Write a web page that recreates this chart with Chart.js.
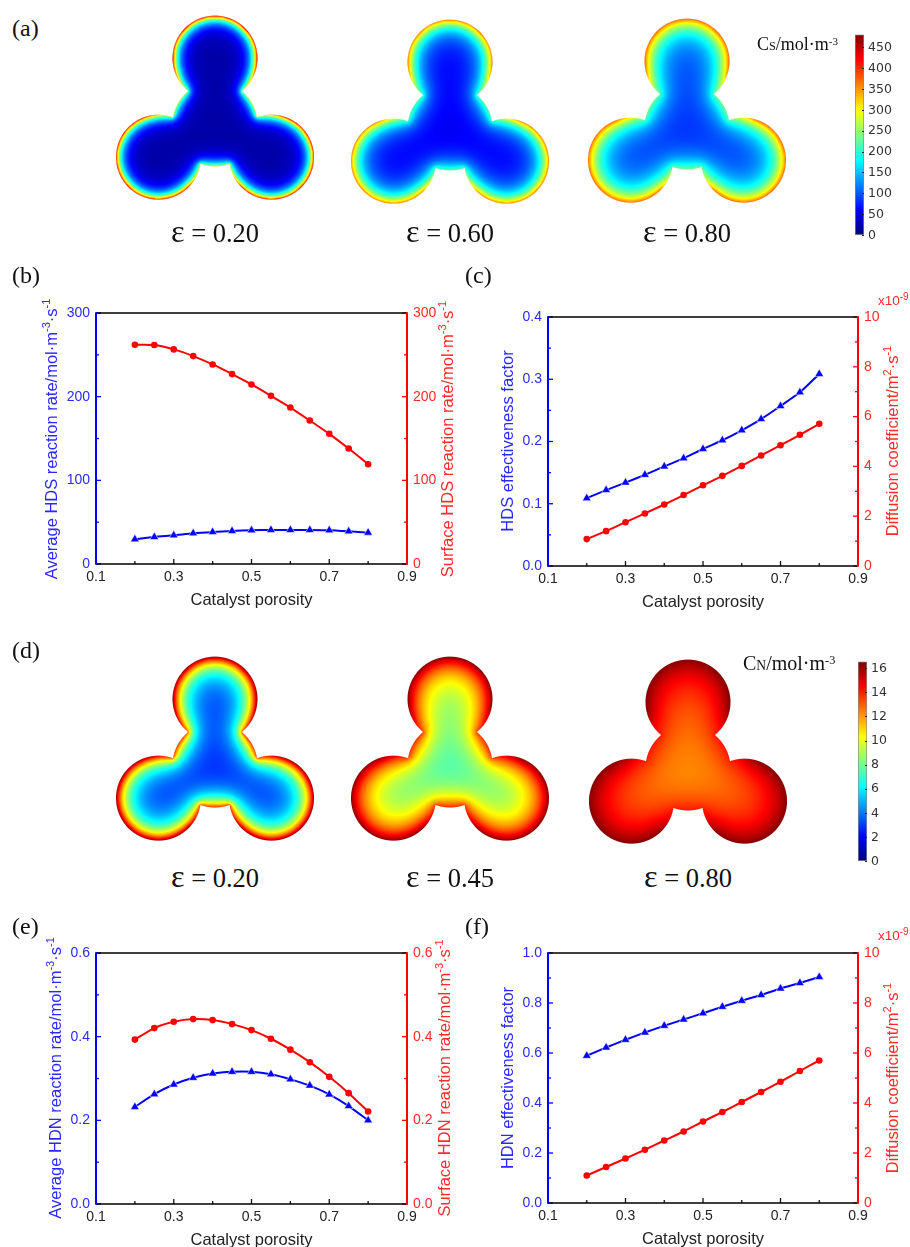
<!DOCTYPE html>
<html>
<head>
<meta charset="utf-8">
<title>Catalyst porosity panels</title>
<script src="https://cdn.jsdelivr.net/npm/chart.js@4"></script>
<style>
  html, body { margin: 0; background: #fff; }
  #page { position: relative; width: 910px; height: 1247px; overflow: hidden; background: #fff; }
  #page canvas { position: absolute; }
  .txt { position: absolute; font-family: "Liberation Serif", serif; color: #111; white-space: nowrap; line-height: 1; }
  .letter { font-size: 24px; }
  .eps { font-size: 26.5px; transform: translateX(-50%); }
  .eps span { font-size: 1.22em; line-height: 0; }
  .cbt { font-size: 18px; }
  .cbn { font-size: 20px; }
  .cbt small, .cbn small { font-size: 0.68em; }
  .cbt sup, .cbn sup { font-size: 0.62em; line-height: 0; vertical-align: 0.45em; }
  .exp { font-family: "Liberation Sans", sans-serif; font-size: 13.5px; color: #ff2a2a; }
  .exp sup { font-size: 10px; line-height: 0; vertical-align: 5px; }
</style>
</head>
<body>
<div id="page"></div>
<script>
// values
const porosity = [0.2, 0.25, 0.3, 0.35, 0.4, 0.45, 0.5, 0.55, 0.6, 0.65, 0.7, 0.75, 0.8];

const hdsAvgRate = [29.5, 32.3, 34.3, 36.7, 38.3, 39.5, 40.3, 40.7, 40.7, 40.7, 40.3, 39, 37.5];
const hdsSurfRate = [262, 261.7, 256.5, 248.5, 238.5, 227, 214.6, 201, 187, 171.5, 155.6, 138, 119.3];
const hdsEffect = [0.109, 0.122, 0.134, 0.1465, 0.16, 0.173, 0.188, 0.202, 0.218, 0.236, 0.257, 0.279, 0.3085];
const hdsDiffusion = [1.08, 1.4, 1.76, 2.11, 2.47, 2.85, 3.24, 3.62, 4.02, 4.44, 4.85, 5.27, 5.71];

const hdnAvgRate = [0.232, 0.2625, 0.2856, 0.3016, 0.312, 0.316, 0.316, 0.31, 0.298, 0.283, 0.262, 0.234, 0.2];
const hdnSurfRate = [0.393, 0.4205, 0.4356, 0.442, 0.4396, 0.43, 0.4157, 0.395, 0.369, 0.339, 0.304, 0.265, 0.221];
const hdnEffect = [0.589, 0.622, 0.653, 0.682, 0.709, 0.734, 0.759, 0.785, 0.809, 0.832, 0.858, 0.88, 0.904];
const hdnDiffusion = [1.1, 1.44, 1.78, 2.13, 2.5, 2.86, 3.26, 3.64, 4.04, 4.44, 4.85, 5.28, 5.7];

// trilobe outline, in lobe radii: hub first, then the three lobes
const lobeX = [0, 0, -1.33, 1.33];
const lobeY = [0, 1.55, -0.78, -0.78];

const sulfurRange = [0, 482];
const nitrogenRange = [0, 16.6];

const BLUE = '#0000ff';
const RED = '#ff0000';
const BLUE_TXT = '#2a2aff';
const RED_TXT = '#ff2a2a';
const SANS = "'Liberation Sans', Arial, sans-serif";

const page = document.getElementById('page');

function addCanvas(left, top, width, height) {
    const c = document.createElement('canvas');
    c.width = width;
    c.height = height;
    c.style.left = left + 'px';
    c.style.top = top + 'px';
    page.appendChild(c);
    return c;
}

function addText(cls, left, top, html) {
    const d = document.createElement('div');
    d.className = 'txt ' + cls;
    d.style.left = left + 'px';
    d.style.top = top + 'px';
    d.innerHTML = html;
    page.appendChild(d);
}

function jet(u) {
    const f = (k) => Math.max(0, Math.min(1, 1.5 - Math.abs(4 * u - k)));
    return [f(3) * 255, f(2) * 255, f(1) * 255];
}

// y axis title with raised exponents, same way the library writes its own text
function drawRichTitle(ctx, parts, x, y, color) {
    const base = '16.5px ' + SANS;
    const sup = '11px ' + SANS;
    ctx.save();
    ctx.translate(x, y);
    ctx.rotate(-Math.PI / 2);
    ctx.fillStyle = color;
    ctx.textBaseline = 'middle';
    ctx.textAlign = 'left';
    let total = 0;
    parts.forEach((p, i) => {
        ctx.font = i % 2 ? sup : base;
        total += ctx.measureText(p).width;
    });
    let pos = -total / 2;
    parts.forEach((p, i) => {
        ctx.font = i % 2 ? sup : base;
        ctx.fillText(p, pos, i % 2 ? -5 : 0);
        pos += ctx.measureText(p).width;
    });
    ctx.restore();
}

const frameAndTicks = {
    id: 'frameAndTicks',
    afterDraw(chart, args, opts) {
        const { ctx, chartArea: a, scales } = chart;
        ctx.save();
        const inward = (scale, color, dir) => {
            ctx.strokeStyle = color;
            ctx.lineWidth = 1.3;
            scale.ticks.forEach((t, i) => {
                const major = t.label !== '';
                const len = major ? 5 : 3;
                const p = scale.getPixelForTick(i);
                ctx.beginPath();
                if (scale.isHorizontal()) {
                    ctx.moveTo(p, a.bottom);
                    ctx.lineTo(p, a.bottom - len);
                } else {
                    const x0 = dir > 0 ? a.left : a.right;
                    ctx.moveTo(x0, p);
                    ctx.lineTo(x0 + dir * len, p);
                }
                ctx.stroke();
            });
        };
        inward(scales.x, '#111', 1);
        inward(scales.y, BLUE, 1);
        inward(scales.y2, RED, -1);
        ctx.lineWidth = 1.7;
        ctx.strokeStyle = '#000';
        ctx.beginPath();
        ctx.moveTo(a.left, a.top);
        ctx.lineTo(a.right, a.top);
        ctx.moveTo(a.left, a.bottom);
        ctx.lineTo(a.right, a.bottom);
        ctx.stroke();
        ctx.lineWidth = 2;
        ctx.strokeStyle = BLUE;
        ctx.beginPath();
        ctx.moveTo(a.left, a.top - 0.8);
        ctx.lineTo(a.left, a.bottom + 0.8);
        ctx.stroke();
        ctx.strokeStyle = RED;
        ctx.beginPath();
        ctx.moveTo(a.right, a.top - 0.8);
        ctx.lineTo(a.right, a.bottom + 0.8);
        ctx.stroke();
        ctx.restore();
        drawRichTitle(ctx, opts.leftTitle, opts.leftX, opts.leftY, BLUE_TXT);
        drawRichTitle(ctx, opts.rightTitle, opts.rightX, opts.rightY, RED_TXT);
    },
};

function multipleOf(v, step, origin) {
    const k = (v - origin) / step;
    return Math.abs(k - Math.round(k)) < 1e-6;
}

function yAxis(position, color, max, minor, major, digits, width) {
    return {
        type: 'linear',
        position,
        min: 0,
        max,
        afterFit: (s) => { s.width = width; },
        border: { display: false },
        grid: { display: false, drawTicks: false },
        ticks: {
            stepSize: minor,
            autoSkip: false,
            padding: 6,
            color,
            font: { family: SANS, size: 14 },
            callback: (v) => (multipleOf(v, major, 0) ? v.toFixed(digits) : ''),
        },
    };
}

function createPorosityChart(box, seriesBlue, seriesRed, left, right, titles) {
    const padL = 70, padR = 52, padT = 30, padB = 46;
    const canvas = addCanvas(box.l - padL, box.t - padT, box.r - box.l + padL + padR, box.b - box.t + padT + padB);
    return new Chart(canvas, {
        type: 'line',
        data: {
            labels: porosity,
            datasets: [
                {
                    data: porosity.map((x, i) => ({ x, y: seriesBlue[i] })),
                    yAxisID: 'y',
                    borderColor: BLUE,
                    backgroundColor: BLUE,
                    borderWidth: 2,
                    tension: 0.2,
                    pointStyle: 'triangle',
                    pointRadius: 5,
                    pointBorderColor: '#ffffff',
                    pointBorderWidth: 0.5,
                },
                {
                    data: porosity.map((x, i) => ({ x, y: seriesRed[i] })),
                    yAxisID: 'y2',
                    borderColor: RED,
                    backgroundColor: RED,
                    borderWidth: 2,
                    tension: 0.2,
                    pointStyle: 'circle',
                    pointRadius: 3.3,
                    pointBorderWidth: 0,
                },
            ],
        },
        options: {
            responsive: false,
            animation: false,
            layout: { padding: { top: padT } },
            plugins: {
                legend: { display: false },
                tooltip: { enabled: false },
                frameAndTicks: {
                    leftTitle: titles.left,
                    rightTitle: titles.right,
                    leftX: titles.leftX - (box.l - padL),
                    rightX: titles.rightX - (box.l - padL),
                    leftY: titles.centerY - (box.t - padT),
                    rightY: titles.centerY - (box.t - padT),
                },
            },
            scales: {
                x: {
                    type: 'linear',
                    min: 0.1,
                    max: 0.9,
                    afterFit: (s) => { s.height = padB; },
                    border: { display: false },
                    grid: { display: false, drawTicks: false },
                    ticks: {
                        stepSize: 0.1,
                        autoSkip: false,
                        maxRotation: 0,
                        padding: 5,
                        color: '#222',
                        font: { family: SANS, size: 14 },
                        callback: (v) => (multipleOf(v, 0.2, 0.1) ? v.toFixed(1) : ''),
                    },
                    title: {
                        display: true,
                        text: 'Catalyst porosity',
                        color: '#222',
                        font: { family: SANS, size: 16.5 },
                        padding: 0,
                    },
                },
                y: yAxis('left', BLUE_TXT, ...left, padL),
                y2: yAxis('right', RED_TXT, ...right, padR),
            },
        },
        plugins: [frameAndTicks],
    });
}

// concentration map: reaction-diffusion solved on the trilobe, one cell per canvas pixel
const trilobeField = {
    id: 'trilobeField',
    afterDatasetsDraw(chart, args, opts) {
        const { ctx, scales } = chart;
        const W = chart.width, H = chart.height;
        const R = Math.abs(scales.x.getPixelForValue(1) - scales.x.getPixelForValue(0));
        const cx = scales.x.getPixelForValue(0), cy = scales.y.getPixelForValue(0);
        const lobes = chart.data.datasets[0].data.map((p) => ({
            x: scales.x.getPixelForValue(p.x),
            y: scales.y.getPixelForValue(p.y),
        }));
        const val = new Float32Array(W * H);
        const inner = new Uint8Array(W * H);
        const alpha = new Float32Array(W * H);
        for (let j = 0; j < H; j++) {
            for (let i = 0; i < W; i++) {
                let depth = -1e9;
                lobes.forEach((c) => {
                    depth = Math.max(depth, R - Math.hypot(i + 0.5 - c.x, j + 0.5 - c.y));
                });
                const k = j * W + i;
                alpha[k] = Math.max(0, Math.min(1, depth + 0.5));
                inner[k] = depth > 0 ? 1 : 0;
                const r = Math.hypot(i + 0.5 - cx, j + 0.5 - cy) / R;
                const t = Math.max(0, Math.min(1, (r - 1) / 0.75));
                val[k] = opts.hub + (opts.surface - opts.hub) * t * t * (3 - 2 * t) - opts.floor;
            }
        }
        const sink = 4 + 1 / (opts.decay * opts.decay);
        const omega = 1.85;
        for (let n = 0; n < 350; n++) {
            for (let j = 1; j < H - 1; j++) {
                for (let i = 1; i < W - 1; i++) {
                    const k = j * W + i;
                    if (!inner[k]) continue;
                    const next = (val[k - 1] + val[k + 1] + val[k - W] + val[k + W]) / sink;
                    val[k] += omega * (next - val[k]);
                }
            }
        }
        const off = document.createElement('canvas');
        off.width = W;
        off.height = H;
        const octx = off.getContext('2d');
        const img = octx.createImageData(W, H);
        for (let k = 0; k < W * H; k++) {
            const rgb = jet((val[k] + opts.floor) / opts.max);
            img.data[k * 4] = rgb[0];
            img.data[k * 4 + 1] = rgb[1];
            img.data[k * 4 + 2] = rgb[2];
            img.data[k * 4 + 3] = alpha[k] * 255;
        }
        octx.putImageData(img, 0, 0);
        ctx.save();
        ctx.filter = 'blur(0.5px)';
        ctx.drawImage(off, 0, 0);
        ctx.restore();
    },
};

function createTrilobe(cx, cy, field) {
    const R = 42.5, W = 210, H = 200, above = 110;
    const canvas = addCanvas(cx - W / 2, cy - above, W, H);
    return new Chart(canvas, {
        type: 'scatter',
        data: {
            datasets: [{
                data: lobeX.map((x, i) => ({ x, y: lobeY[i] })),
                pointRadius: 0,
            }],
        },
        options: {
            responsive: false,
            animation: false,
            plugins: { legend: { display: false }, tooltip: { enabled: false }, trilobeField: field },
            scales: {
                x: { display: false, min: -W / 2 / R, max: W / 2 / R },
                y: { display: false, min: -(H - above) / R, max: above / R },
            },
        },
        plugins: [trilobeField],
    });
}

function createColorbar(left, top, barHeight, range, step) {
    const barW = 9, labelW = 40, pad = 5;
    const canvas = addCanvas(left, top - pad, barW + labelW, barHeight + 2 * pad);
    return new Chart(canvas, {
        type: 'bar',
        data: {
            labels: [''],
            datasets: [{
                data: [range],
                barPercentage: 1,
                categoryPercentage: 1,
                borderColor: '#8a8a8a',
                borderWidth: 1,
                borderSkipped: false,
                backgroundColor: (c) => {
                    const a = c.chart.chartArea;
                    if (!a) return '#000';
                    const g = c.chart.ctx.createLinearGradient(0, a.bottom, 0, a.top);
                    for (let i = 0; i <= 16; i++) {
                        const rgb = jet(i / 16);
                        g.addColorStop(i / 16, `rgb(${rgb[0]},${rgb[1]},${rgb[2]})`);
                    }
                    return g;
                },
            }],
        },
        options: {
            responsive: false,
            animation: false,
            layout: { padding: { top: pad, bottom: pad } },
            plugins: { legend: { display: false }, tooltip: { enabled: false } },
            scales: {
                x: { display: false },
                y: {
                    position: 'right',
                    min: range[0],
                    max: range[1],
                    afterFit: (s) => { s.width = labelW; },
                    border: { display: false },
                    grid: { drawOnChartArea: false, tickLength: -2, tickColor: '#222', z: 1 },
                    ticks: {
                        stepSize: step,
                        includeBounds: false,
                        autoSkip: false,
                        padding: 6,
                        color: '#333',
                        font: { family: "'DejaVu Sans', sans-serif", size: 12.5 },
                    },
                },
            },
        },
    });
}

createTrilobe(215, 124, { max: 482, surface: 440, hub: 280, floor: 18, decay: 6 });
createTrilobe(450, 128, { max: 482, surface: 370, hub: 230, floor: 50, decay: 10 });
createTrilobe(687, 127, { max: 482, surface: 380, hub: 240, floor: 70, decay: 13 });
createColorbar(855, 26, 218, sulfurRange, 50);

createTrilobe(215, 765, { max: 16.6, surface: 16.6, hub: 14, floor: 2, decay: 12.5 });
createTrilobe(450, 765, { max: 16.6, surface: 16.6, hub: 14, floor: 5, decay: 21 });
createTrilobe(688, 768, { max: 16.6, surface: 16.6, hub: 14.2, floor: 10.5, decay: 28 });
createColorbar(858, 653, 217, nitrogenRange, 2);

createPorosityChart({ l: 96, r: 407, t: 313, b: 564 }, hdsAvgRate, hdsSurfRate,
    [300, 50, 100, 0], [300, 50, 100, 0],
    { left: ['Average HDS reaction rate/mol·m', '-3', '·s', '-1'], right: ['Surface HDS reaction rate/mol·m', '-3', '·s', '-1'], leftX: 52, rightX: 448, centerY: 439 });
createPorosityChart({ l: 548, r: 858, t: 317, b: 566 }, hdsEffect, hdsDiffusion,
    [0.4, 0.05, 0.1, 1], [10, 1, 2, 0],
    { left: ['HDS effectiveness factor'], right: ['Diffusion coefficient/m', '2', '·s', '-1'], leftX: 508, rightX: 893, centerY: 441 });
createPorosityChart({ l: 96, r: 407, t: 953, b: 1204 }, hdnAvgRate, hdnSurfRate,
    [0.6, 0.1, 0.2, 1], [0.6, 0.1, 0.2, 1],
    { left: ['Average HDN reaction rate/mol·m', '-3', '·s', '-1'], right: ['Surface HDN reaction rate/mol·m', '-3', '·s', '-1'], leftX: 56, rightX: 445, centerY: 1078 });
createPorosityChart({ l: 548, r: 858, t: 953, b: 1203 }, hdnEffect, hdnDiffusion,
    [1, 0.1, 0.2, 1], [10, 1, 2, 0],
    { left: ['HDN effectiveness factor'], right: ['Diffusion coefficient/m', '2', '·s', '-1'], leftX: 508, rightX: 893, centerY: 1078 });

addText('letter', 12, 16, '(a)');
addText('letter', 12, 263, '(b)');
addText('letter', 465, 263, '(c)');
addText('letter', 12, 638, '(d)');
addText('letter', 12, 914, '(e)');
addText('letter', 465, 914, '(f)');

addText('eps', 215, 220, '<span>ε</span> = 0.20');
addText('eps', 450, 220, '<span>ε</span> = 0.60');
addText('eps', 687, 220, '<span>ε</span> = 0.80');
addText('eps', 215, 865, '<span>ε</span> = 0.20');
addText('eps', 450, 865, '<span>ε</span> = 0.45');
addText('eps', 688, 865, '<span>ε</span> = 0.80');

addText('cbt', 757, 35, 'C<small>S</small>/mol·m<sup>-3</sup>');
addText('cbn', 743, 653, 'C<small>N</small>/mol·m<sup>-3</sup>');
addText('exp', 878, 294, 'x10<sup>-9</sup>');
addText('exp', 878, 929, 'x10<sup>-9</sup>');
</script>
</body>
</html>
